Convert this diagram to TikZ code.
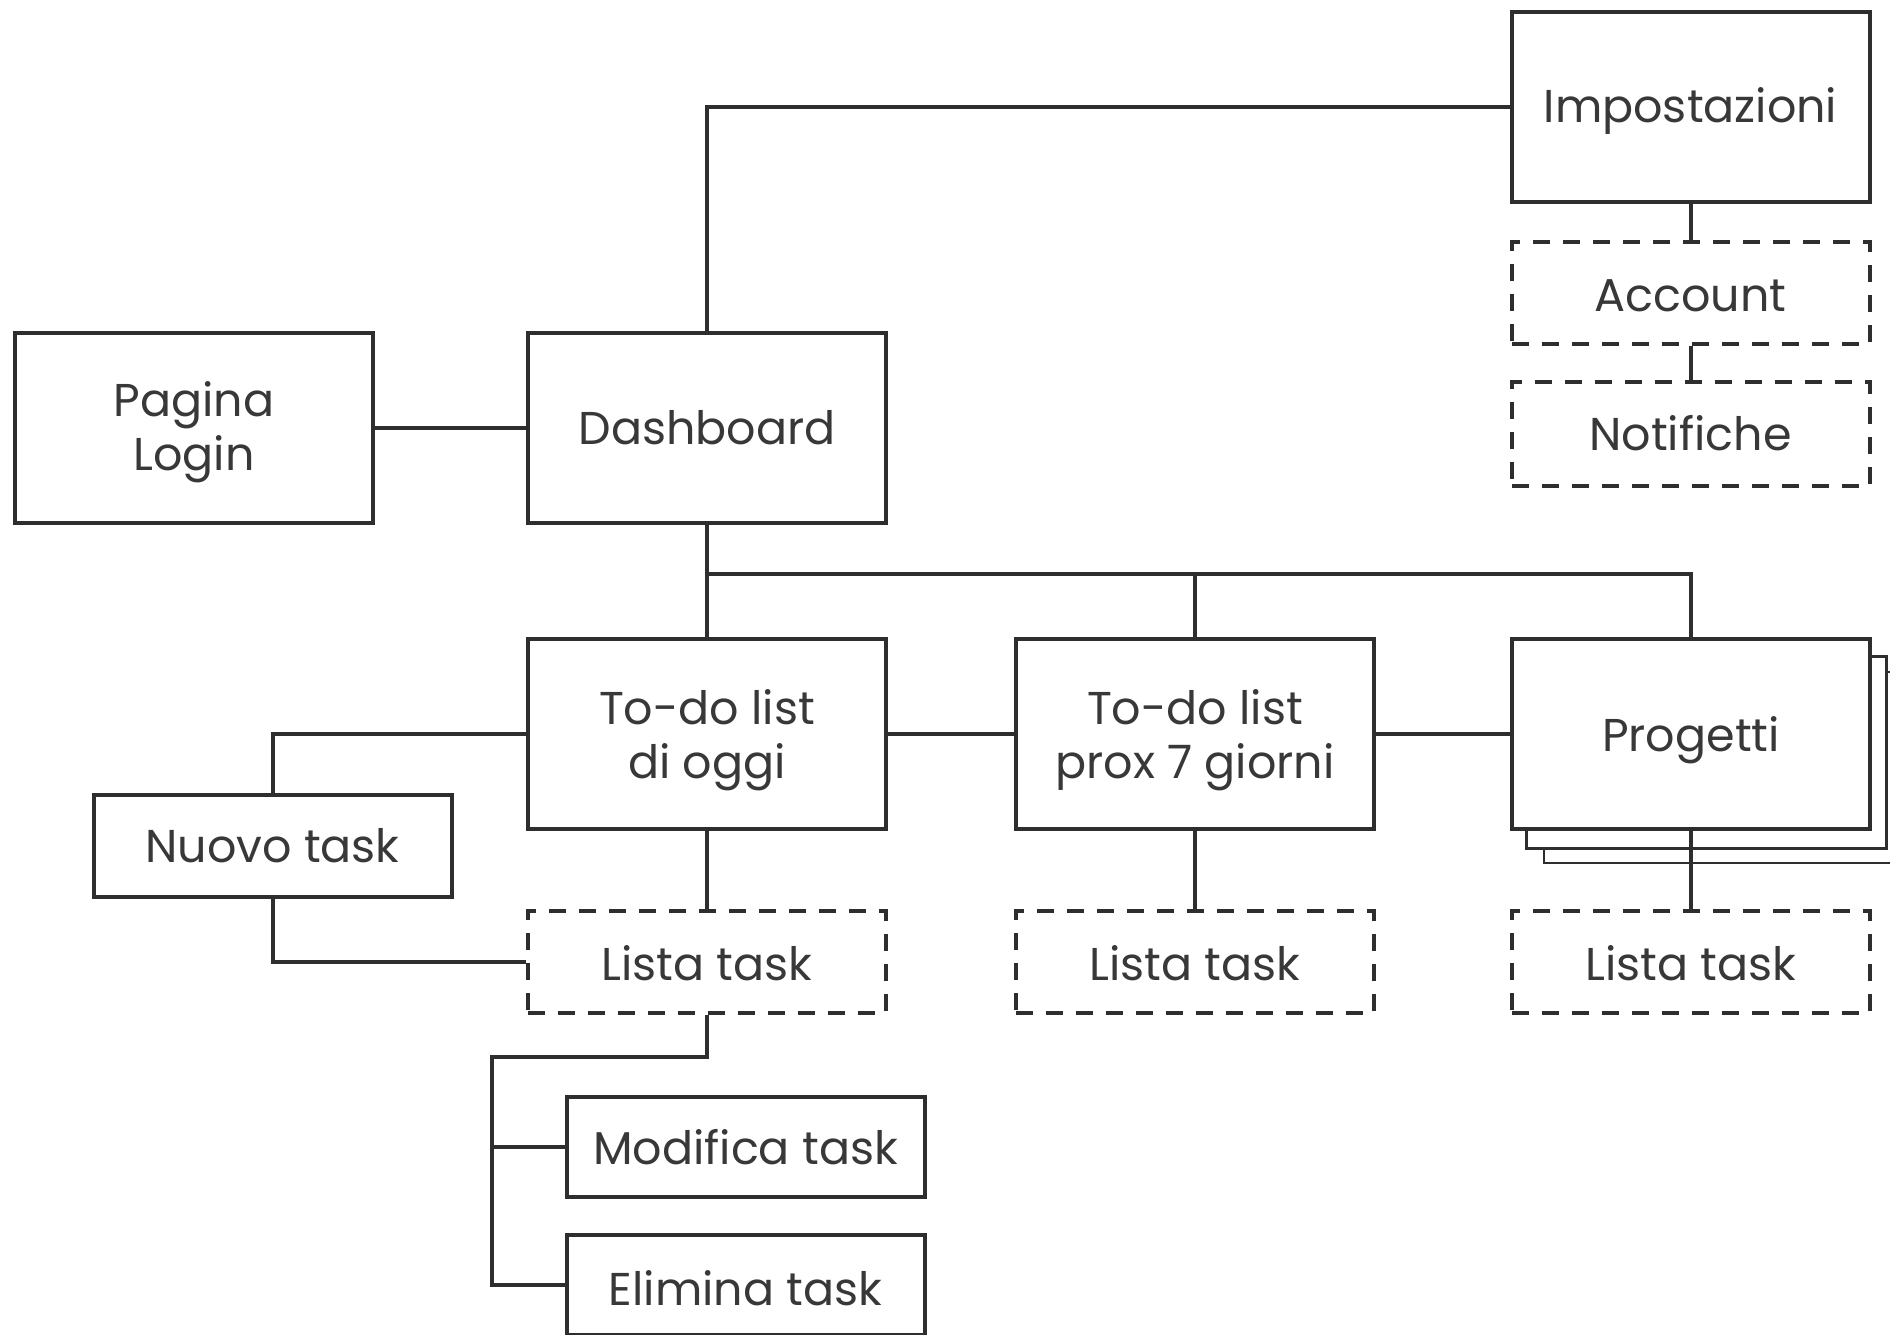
\documentclass[tikz,border=0pt]{standalone}
\usepackage{fontspec}
\setmainfont{Poppins}
\definecolor{linec}{HTML}{2E2E2E}
\definecolor{textc}{HTML}{383838}
\newcommand{\dnshift}[2]{\raisebox{-#1}[\height][\depth]{\begin{tabular}{@{}c@{}}#2\end{tabular}}}
\begin{document}
\begin{tikzpicture}[x=0.5pt,y=-0.5pt,
  box/.style={draw=linec, line width=2pt, fill=white, minimum width=179pt, inner sep=0pt,
    align=center, text=textc, font=\fontsize{23}{27}\selectfont},
  tall/.style={box, minimum height=95pt},
  short/.style={box, minimum height=51pt},
  dbox/.style={short, dash pattern=on 8.5pt off 6.5pt},
  conn/.style={draw=linec, line width=2pt},
  layer/.style={draw=linec, fill=white}]
\useasboundingbox (0,0) rectangle (1890,1334);
% stacked layers behind Progetti
\path[layer, line width=1.1pt] (1544,672) rectangle (1910,863);
\path[layer, line width=1.5pt] (1526,656) rectangle (1886,848);
% nodes
\node[tall] (login) at (194,428) {\dnshift{2.5pt}{Pagina\\Login}};
\node[tall] (dash) at (707,428) {Dashboard};
\node[tall] (imp) at (1690.5,107) {\dnshift{2.5pt}{Impostazioni}};
\node[dbox] (acc) at (1690.5,293) {\dnshift{4pt}{Account}};
\node[dbox, minimum height=52pt] (notif) at (1690.5,433.5) {Notifiche};
\node[tall] (todo1) at (707,734) {\dnshift{3.3pt}{To-do list\\di oggi}};
\node[tall] (todo7) at (1195,734) {\dnshift{3.3pt}{To-do list\\prox 7 giorni}};
\node[tall] (prog) at (1691,734) {\dnshift{3.5pt}{Progetti}};
\node[short] (nuovo) at (272.5,846) {Nuovo task};
\node[dbox] (lt1) at (707,962) {\dnshift{4pt}{Lista task}};
\node[dbox] (lt7) at (1195,962) {\dnshift{4pt}{Lista task}};
\node[dbox] (lt3) at (1691,962) {\dnshift{4pt}{Lista task}};
\node[short, minimum height=50pt] (mod) at (745.5,1147) {Modifica task};
\node[short, minimum height=50pt] (elim) at (745.5,1285) {\dnshift{5pt}{Elimina task}};
\coordinate (bus) at (707,574);
\coordinate (trunk) at (492,1057);
% connectors
\draw[conn] (dash.north) |- (imp.west);
\draw[conn] (login.east) -- (dash.west);
\draw[conn] (dash.south) -- (todo1.north);
\draw[conn] (bus) -| (todo7.north);
\draw[conn] (bus) -| (prog.north);
\draw[conn] (todo1.east) -- (todo7.west);
\draw[conn] (todo7.east) -- (prog.west);
\draw[conn] (todo1.west) -| (nuovo.north);
\draw[conn] (nuovo.south) |- (lt1.west);
\draw[conn] (todo1.south) -- (lt1.north);
\draw[conn] (todo7.south) -- (lt7.north);
\draw[conn] (prog.south) -- (lt3.north);
\draw[conn] (imp.south) -- (acc.north);
\draw[conn] (acc.south) -- (notif.north);
\draw[conn] (lt1.south) |- (trunk) |- (elim.west);
\draw[conn] (trunk |- mod.west) -- (mod.west);
\end{tikzpicture}
\end{document}
